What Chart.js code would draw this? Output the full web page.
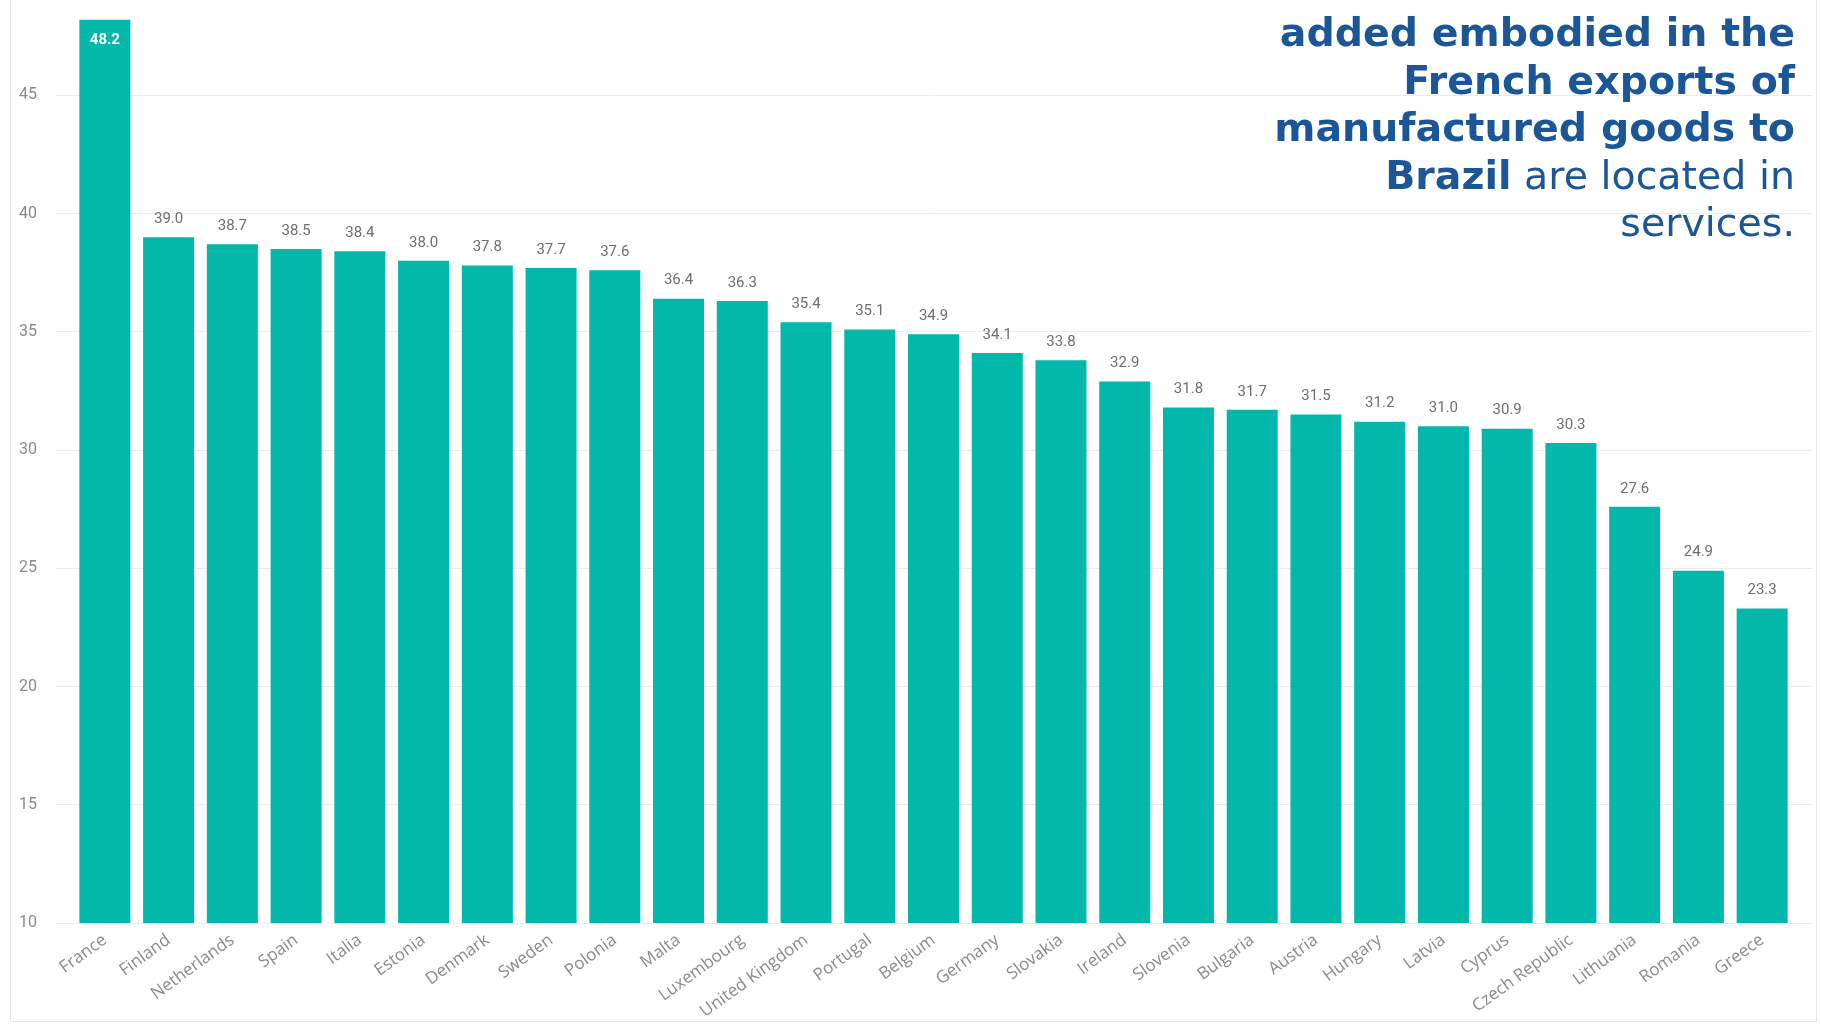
<!DOCTYPE html>
<html>
<head>
<meta charset="utf-8">
<script src="https://cdn.jsdelivr.net/npm/chart.js@4"></script>
<style>
  html, body { margin: 0; padding: 0; background: #fff; }
  #wrap { position: relative; width: 1822px; height: 1026px; overflow: hidden; }
  #frame { position: absolute; left: 10px; top: -2px; width: 1807px; height: 1024px;
           border: 1px solid #e6e6e6; box-sizing: border-box; pointer-events: none; }
  #note { position: absolute; right: 27px; top: 9px; text-align: right;
          font-family: "DejaVu Sans", Verdana, sans-serif; font-size: 39.5px; line-height: 47.6px;
          color: #1b5797; white-space: nowrap; }
  #note b { font-weight: bold; }
</style>
</head>
<body>
<div id="wrap">
  <canvas id="c" width="1822" height="1026"></canvas>
  <div id="frame"></div>
  <div id="note"><b>added embodied in the</b><br><b>French exports of</b><br><b>manufactured goods to</b><br><b>Brazil</b> are located in<br>services.</div>
</div>
<script>
const categories = ["France", "Finland", "Netherlands", "Spain", "Italia", "Estonia", "Denmark", "Sweden", "Polonia", "Malta", "Luxembourg", "United Kingdom", "Portugal", "Belgium", "Germany", "Slovakia", "Ireland", "Slovenia", "Bulgaria", "Austria", "Hungary", "Latvia", "Cyprus", "Czech Republic", "Lithuania", "Romania", "Greece"];
const values = [48.2, 39.0, 38.7, 38.5, 38.4, 38.0, 37.8, 37.7, 37.6, 36.4, 36.3, 35.4, 35.1, 34.9, 34.1, 33.8, 32.9, 31.8, 31.7, 31.5, 31.2, 31.0, 30.9, 30.3, 27.6, 24.9, 23.3];
const yTicks = [10, 15, 20, 25, 30, 35, 40, 45];
const yMin = 10;
const yMax = 48.2;

const keepTicks = (scale) => {
  scale.ticks = yTicks.map(v => ({ value: v }));
};

const valueLabels = {
  id: 'valueLabels',
  afterDatasetsDraw(chart) {
    const ctx = chart.ctx;
    const meta = chart.getDatasetMeta(0);
    const maxVal = Math.max(...values);
    ctx.save();
    ctx.textAlign = 'center';
    ctx.textBaseline = 'middle';
    meta.data.forEach((bar, i) => {
      const v = values[i];
      const txt = v.toFixed(1);
      if (v === maxVal) {
        ctx.fillStyle = '#ffffff';
        ctx.font = 'bold 15px Roboto, sans-serif';
        ctx.fillText(txt, bar.x, bar.y + 21);
      } else {
        ctx.fillStyle = '#6e6e6e';
        ctx.font = '15px Roboto, sans-serif';
        ctx.fillText(txt, bar.x, bar.y - 18);
      }
    });
    ctx.restore();
  }
};

new Chart(document.getElementById('c'), {
  type: 'bar',
  data: {
    labels: categories,
    datasets: [{
      data: values,
      backgroundColor: '#01B8AA',
      borderWidth: 0,
      barPercentage: 0.8,
      categoryPercentage: 1.0
    }]
  },
  options: {
    responsive: false,
    animation: false,
    layout: { padding: { left: 12, right: 9, top: 19.6, bottom: 0 } },
    plugins: { legend: { display: false }, tooltip: { enabled: false }, title: { display: false } },
    scales: {
      x: {
        offset: true,
        grid: { display: false, drawTicks: false },
        border: { display: false },
        ticks: {
          autoSkip: false,
          minRotation: 36,
          maxRotation: 36,
          padding: 7,
          color: '#8a8a8a',
          font: { family: '"Open Sans", sans-serif', size: 17 }
        },
        afterFit(scale) { scale.height = 103; }
      },
      y: {
        position: 'left',
        min: yMin,
        max: yMax,
        afterBuildTicks: keepTicks,
        grid: { color: '#ebebeb', lineWidth: 1, drawTicks: true, tickLength: 17 },
        border: { display: false },
        ticks: {
          padding: 19,
          color: '#8a8a8a',
          font: { family: 'Roboto, sans-serif', size: 16 }
        },
        afterFit(scale) { scale.width = 61; scale.paddingTop = 0; scale.paddingBottom = 0; }
      },
      yRight: {
        position: 'right',
        min: yMin,
        max: yMax,
        afterBuildTicks: keepTicks,
        grid: { color: '#ebebeb', lineWidth: 1, drawOnChartArea: false, drawTicks: true, tickLength: 19 },
        border: { display: false },
        ticks: { display: false },
        afterFit(scale) { scale.width = 19; scale.paddingTop = 0; scale.paddingBottom = 0; }
      }
    }
  },
  plugins: [valueLabels]
});
</script>
</body>
</html>
